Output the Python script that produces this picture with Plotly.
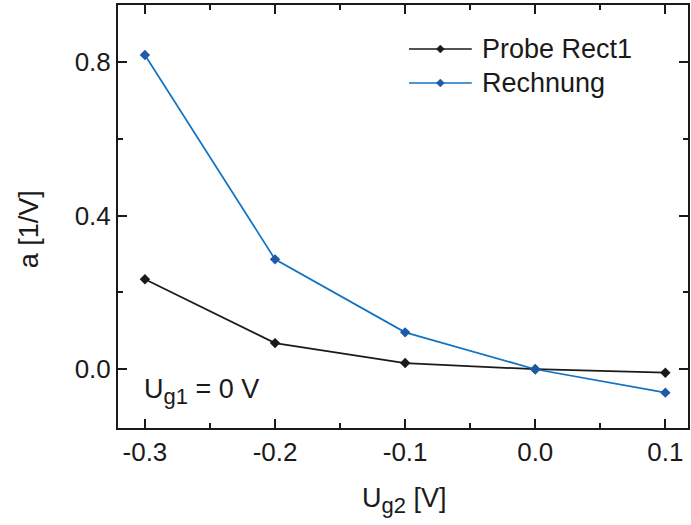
import plotly.graph_objects as go

x_vals = [-0.3, -0.2, -0.1, 0.0, 0.1]
probe_rect1 = [0.234, 0.068, 0.016, 0.0, -0.009]
rechnung = [0.818, 0.286, 0.096, 0.0, -0.061]
x_ticks = [-0.3, -0.2, -0.1, 0.0, 0.1]
x_tick_labels = ["-0.3", "-0.2", "-0.1", "0.0", "0.1"]
y_ticks = [0.0, 0.4, 0.8]
y_tick_labels = ["0.0", "0.4", "0.8"]

W, H = 691, 525
L, R, T, B = 118, 1, 5, 97
FONT = "Liberation Sans, Arial, sans-serif"
BLACK = "#1a1a1a"
BLUE_LINE = "#1273c2"
BLUE_MARK = "#1f5aa8"

fig = go.Figure()
fig.add_trace(go.Scatter(x=x_vals, y=probe_rect1, mode="lines+markers", name="Probe Rect1",
                         line=dict(color=BLACK, width=1.7),
                         marker=dict(symbol="diamond", size=8, color=BLACK)))
fig.add_trace(go.Scatter(x=x_vals, y=rechnung, mode="lines+markers", name="Rechnung",
                         line=dict(color=BLUE_LINE, width=1.7),
                         marker=dict(symbol="diamond", size=8, color=BLUE_MARK)))

axis_common = dict(showline=True, linecolor=BLACK, linewidth=2, mirror="allticks",
                   ticks="inside", ticklen=9, tickwidth=1.5, tickcolor=BLACK,
                   showgrid=False, zeroline=False,
                   tickfont=dict(family=FONT, size=26, color=BLACK))
fig.update_xaxes(range=[-0.3207, 0.1174], tickvals=x_ticks, ticktext=x_tick_labels,
                 ticklabelstandoff=0,
                 minor=dict(ticks="inside", ticklen=5, tickwidth=1.5, tickcolor=BLACK, dtick=0.05,
                            tick0=-0.35, showgrid=False),
                 **axis_common)
fig.update_yaxes(range=[-0.153, 0.948], tickvals=y_ticks, ticktext=y_tick_labels,
                 minor=dict(ticks="inside", ticklen=5, tickwidth=1.5, tickcolor=BLACK, dtick=0.2,
                            tick0=0, showgrid=False),
                 **axis_common)

def px(xp):
    return (xp - L) / (W - L - R)

def py(yp):
    return (H - B - yp) / (H - T - B)

SUB = '<sub><span style="font-size:22px">{}</span></sub>'
annotations = [
    dict(x=px(29), y=py(229), xref="paper", yref="paper", xanchor="center", yanchor="middle",
         text="a [1/V]", textangle=-90,
         showarrow=False, font=dict(family=FONT, size=27, color=BLACK)),
    dict(x=px(406), y=py(501), xref="paper", yref="paper", xanchor="center", yanchor="middle",
         text="U" + SUB.format("g2") + " [V]",
         showarrow=False, font=dict(family=FONT, size=27, color=BLACK)),
    dict(x=px(142), y=py(391), xref="paper", yref="paper", xanchor="left", yanchor="middle",
         text="U" + SUB.format("g1") + " = 0 V", showarrow=False,
         font=dict(family=FONT, size=27, color=BLACK)),
]
shapes = []
legend_items = [("Probe Rect1", BLACK, BLACK, 49), ("Rechnung", BLUE_LINE, BLUE_MARK, 83)]
for name, lc, mc, ypix in legend_items:
    shapes.append(dict(type="line", xref="paper", yref="paper", x0=px(410), x1=px(473),
                       y0=py(ypix), y1=py(ypix), line=dict(color=lc, width=1.6)))
    cx, cy, s = 441.5, ypix, 4
    path = "M{},{} L{},{} L{},{} L{},{} Z".format(px(cx - s), py(cy), px(cx), py(cy - s),
                                                 px(cx + s), py(cy), px(cx), py(cy + s))
    shapes.append(dict(type="path", xref="paper", yref="paper", path=path,
                       fillcolor=mc, line=dict(color=mc, width=0.5)))
    annotations.append(dict(x=px(481), y=py(ypix), xref="paper", yref="paper", xanchor="left",
                            yanchor="middle", text=name, showarrow=False,
                            font=dict(family=FONT, size=27, color=BLACK)))

fig.update_layout(width=W, height=H, margin=dict(l=L, r=R, t=T, b=B, pad=0),
                  paper_bgcolor="white", plot_bgcolor="white", showlegend=False,
                  annotations=annotations, shapes=shapes)

fig.write_html("out.html", config={"displayModeBar": False},
               post_script="document.body.style.margin='0';")
